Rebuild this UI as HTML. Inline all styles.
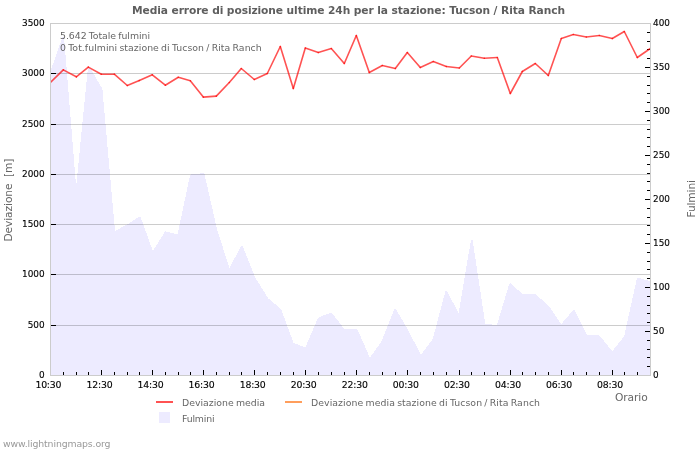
<!DOCTYPE html>
<html><head><meta charset="utf-8"><title>Media errore di posizione</title>
<style>
html,body{margin:0;padding:0;background:#fff;}
body{width:700px;height:450px;overflow:hidden;}
svg{display:block;}
text{font-family:"DejaVu Sans","Liberation Sans",sans-serif;}
</style></head><body>
<svg width="700" height="450" viewBox="0 0 700 450">
<rect x="0" y="0" width="700" height="450" fill="#ffffff"/>
<clipPath id="pc"><rect x="51" y="24" width="599" height="351"/></clipPath>
<g clip-path="url(#pc)" fill="#edebff" shape-rendering="crispEdges">
<path d="M50.5,375.5 L50.50,73.50 L63.27,37.00 L76.03,195.50 L88.80,67.20 L101.56,88.70 L114.33,232.20 L127.10,225.20 L139.86,217.20 L152.63,252.80 L165.39,232.20 L178.16,235.20 L190.93,174.80 L203.69,174.10 L216.46,230.20 L229.22,269.70 L241.99,246.20 L254.76,278.20 L267.52,298.50 L280.29,309.20 L293.05,343.70 L305.82,348.20 L318.59,318.20 L331.35,313.30 L344.12,329.70 L356.88,329.70 L369.65,359.20 L382.41,341.20 L395.18,309.20 L407.95,331.20 L420.71,356.20 L433.48,339.20 L446.24,291.20 L459.01,315.40 L471.78,239.90 L484.54,324.20 L497.31,326.20 L510.07,283.70 L522.84,295.20 L535.61,295.20 L548.37,306.20 L561.14,325.20 L573.90,310.20 L586.67,336.20 L599.44,336.20 L612.20,352.20 L624.97,336.20 L637.73,278.20 L650.50,282.20 L650.5,375.5Z"/>
<path d="M49.70,73.50 L51.30,73.50 L64.07,37.00 L62.47,37.00Z"/>
<path d="M62.47,37.00 L64.07,37.00 L76.83,195.50 L75.23,195.50Z"/>
<path d="M75.23,195.50 L76.83,195.50 L89.60,67.20 L88.00,67.20Z"/>
<path d="M88.00,67.20 L89.60,67.20 L102.36,88.70 L100.76,88.70Z"/>
<path d="M100.76,88.70 L102.36,88.70 L115.13,232.20 L113.53,232.20Z"/>
<path d="M114.33,231.40 L127.10,224.40 L127.10,226.00 L114.33,233.00Z"/>
<path d="M127.10,224.40 L139.86,216.40 L139.86,218.00 L127.10,226.00Z"/>
<path d="M139.06,217.20 L140.66,217.20 L153.43,252.80 L151.83,252.80Z"/>
<path d="M151.83,252.80 L153.43,252.80 L166.19,232.20 L164.59,232.20Z"/>
<path d="M165.39,231.40 L178.16,234.40 L178.16,236.00 L165.39,233.00Z"/>
<path d="M177.36,235.20 L178.96,235.20 L191.73,174.80 L190.13,174.80Z"/>
<path d="M190.93,174.00 L203.69,173.30 L203.69,174.90 L190.93,175.60Z"/>
<path d="M202.89,174.10 L204.49,174.10 L217.26,230.20 L215.66,230.20Z"/>
<path d="M215.66,230.20 L217.26,230.20 L230.02,269.70 L228.42,269.70Z"/>
<path d="M228.42,269.70 L230.02,269.70 L242.79,246.20 L241.19,246.20Z"/>
<path d="M241.19,246.20 L242.79,246.20 L255.56,278.20 L253.96,278.20Z"/>
<path d="M253.96,278.20 L255.56,278.20 L268.32,298.50 L266.72,298.50Z"/>
<path d="M267.52,297.70 L280.29,308.40 L280.29,310.00 L267.52,299.30Z"/>
<path d="M279.49,309.20 L281.09,309.20 L293.85,343.70 L292.25,343.70Z"/>
<path d="M293.05,342.90 L305.82,347.40 L305.82,349.00 L293.05,344.50Z"/>
<path d="M305.02,348.20 L306.62,348.20 L319.39,318.20 L317.79,318.20Z"/>
<path d="M318.59,317.40 L331.35,312.50 L331.35,314.10 L318.59,319.00Z"/>
<path d="M330.55,313.30 L332.15,313.30 L344.92,329.70 L343.32,329.70Z"/>
<path d="M344.12,328.90 L356.88,328.90 L356.88,330.50 L344.12,330.50Z"/>
<path d="M356.08,329.70 L357.68,329.70 L370.45,359.20 L368.85,359.20Z"/>
<path d="M368.85,359.20 L370.45,359.20 L383.21,341.20 L381.61,341.20Z"/>
<path d="M381.61,341.20 L383.21,341.20 L395.98,309.20 L394.38,309.20Z"/>
<path d="M394.38,309.20 L395.98,309.20 L408.75,331.20 L407.15,331.20Z"/>
<path d="M407.15,331.20 L408.75,331.20 L421.51,356.20 L419.91,356.20Z"/>
<path d="M419.91,356.20 L421.51,356.20 L434.28,339.20 L432.68,339.20Z"/>
<path d="M432.68,339.20 L434.28,339.20 L447.04,291.20 L445.44,291.20Z"/>
<path d="M445.44,291.20 L447.04,291.20 L459.81,315.40 L458.21,315.40Z"/>
<path d="M458.21,315.40 L459.81,315.40 L472.58,239.90 L470.98,239.90Z"/>
<path d="M470.98,239.90 L472.58,239.90 L485.34,324.20 L483.74,324.20Z"/>
<path d="M484.54,323.40 L497.31,325.40 L497.31,327.00 L484.54,325.00Z"/>
<path d="M496.51,326.20 L498.11,326.20 L510.87,283.70 L509.27,283.70Z"/>
<path d="M510.07,282.90 L522.84,294.40 L522.84,296.00 L510.07,284.50Z"/>
<path d="M522.84,294.40 L535.61,294.40 L535.61,296.00 L522.84,296.00Z"/>
<path d="M535.61,294.40 L548.37,305.40 L548.37,307.00 L535.61,296.00Z"/>
<path d="M547.57,306.20 L549.17,306.20 L561.94,325.20 L560.34,325.20Z"/>
<path d="M560.34,325.20 L561.94,325.20 L574.70,310.20 L573.10,310.20Z"/>
<path d="M573.10,310.20 L574.70,310.20 L587.47,336.20 L585.87,336.20Z"/>
<path d="M586.67,335.40 L599.44,335.40 L599.44,337.00 L586.67,337.00Z"/>
<path d="M598.64,336.20 L600.24,336.20 L613.00,352.20 L611.40,352.20Z"/>
<path d="M611.40,352.20 L613.00,352.20 L625.77,336.20 L624.17,336.20Z"/>
<path d="M624.17,336.20 L625.77,336.20 L638.53,278.20 L636.93,278.20Z"/>
<path d="M637.73,277.40 L650.50,281.40 L650.50,283.00 L637.73,279.00Z"/>
</g>
<line x1="51" y1="325.5" x2="650" y2="325.5" stroke="#000" stroke-opacity="0.2"/>
<line x1="51" y1="274.5" x2="650" y2="274.5" stroke="#000" stroke-opacity="0.2"/>
<line x1="51" y1="224.5" x2="650" y2="224.5" stroke="#000" stroke-opacity="0.2"/>
<line x1="51" y1="174.5" x2="650" y2="174.5" stroke="#000" stroke-opacity="0.2"/>
<line x1="51" y1="124.5" x2="650" y2="124.5" stroke="#000" stroke-opacity="0.2"/>
<line x1="51" y1="73.5" x2="650" y2="73.5" stroke="#000" stroke-opacity="0.2"/>
<rect x="50.5" y="23.5" width="600" height="352" fill="none" stroke="#cccccc"/>
<line x1="63.5" y1="372" x2="63.5" y2="375" stroke="#000"/>
<line x1="76.5" y1="372" x2="76.5" y2="375" stroke="#000"/>
<line x1="88.5" y1="372" x2="88.5" y2="375" stroke="#000"/>
<line x1="101.5" y1="370" x2="101.5" y2="375" stroke="#000"/>
<line x1="114.5" y1="372" x2="114.5" y2="375" stroke="#000"/>
<line x1="127.5" y1="372" x2="127.5" y2="375" stroke="#000"/>
<line x1="139.5" y1="372" x2="139.5" y2="375" stroke="#000"/>
<line x1="152.5" y1="370" x2="152.5" y2="375" stroke="#000"/>
<line x1="165.5" y1="372" x2="165.5" y2="375" stroke="#000"/>
<line x1="178.5" y1="372" x2="178.5" y2="375" stroke="#000"/>
<line x1="190.5" y1="372" x2="190.5" y2="375" stroke="#000"/>
<line x1="203.5" y1="370" x2="203.5" y2="375" stroke="#000"/>
<line x1="216.5" y1="372" x2="216.5" y2="375" stroke="#000"/>
<line x1="229.5" y1="372" x2="229.5" y2="375" stroke="#000"/>
<line x1="241.5" y1="372" x2="241.5" y2="375" stroke="#000"/>
<line x1="254.5" y1="370" x2="254.5" y2="375" stroke="#000"/>
<line x1="267.5" y1="372" x2="267.5" y2="375" stroke="#000"/>
<line x1="280.5" y1="372" x2="280.5" y2="375" stroke="#000"/>
<line x1="293.5" y1="372" x2="293.5" y2="375" stroke="#000"/>
<line x1="305.5" y1="370" x2="305.5" y2="375" stroke="#000"/>
<line x1="318.5" y1="372" x2="318.5" y2="375" stroke="#000"/>
<line x1="331.5" y1="372" x2="331.5" y2="375" stroke="#000"/>
<line x1="344.5" y1="372" x2="344.5" y2="375" stroke="#000"/>
<line x1="356.5" y1="370" x2="356.5" y2="375" stroke="#000"/>
<line x1="369.5" y1="372" x2="369.5" y2="375" stroke="#000"/>
<line x1="382.5" y1="372" x2="382.5" y2="375" stroke="#000"/>
<line x1="395.5" y1="372" x2="395.5" y2="375" stroke="#000"/>
<line x1="407.5" y1="370" x2="407.5" y2="375" stroke="#000"/>
<line x1="420.5" y1="372" x2="420.5" y2="375" stroke="#000"/>
<line x1="433.5" y1="372" x2="433.5" y2="375" stroke="#000"/>
<line x1="446.5" y1="372" x2="446.5" y2="375" stroke="#000"/>
<line x1="459.5" y1="370" x2="459.5" y2="375" stroke="#000"/>
<line x1="471.5" y1="372" x2="471.5" y2="375" stroke="#000"/>
<line x1="484.5" y1="372" x2="484.5" y2="375" stroke="#000"/>
<line x1="497.5" y1="372" x2="497.5" y2="375" stroke="#000"/>
<line x1="510.5" y1="370" x2="510.5" y2="375" stroke="#000"/>
<line x1="522.5" y1="372" x2="522.5" y2="375" stroke="#000"/>
<line x1="535.5" y1="372" x2="535.5" y2="375" stroke="#000"/>
<line x1="548.5" y1="372" x2="548.5" y2="375" stroke="#000"/>
<line x1="561.5" y1="370" x2="561.5" y2="375" stroke="#000"/>
<line x1="573.5" y1="372" x2="573.5" y2="375" stroke="#000"/>
<line x1="586.5" y1="372" x2="586.5" y2="375" stroke="#000"/>
<line x1="599.5" y1="372" x2="599.5" y2="375" stroke="#000"/>
<line x1="612.5" y1="370" x2="612.5" y2="375" stroke="#000"/>
<line x1="624.5" y1="372" x2="624.5" y2="375" stroke="#000"/>
<line x1="637.5" y1="372" x2="637.5" y2="375" stroke="#000"/>
<line x1="51" y1="325.5" x2="56" y2="325.5" stroke="#000"/>
<line x1="51" y1="274.5" x2="56" y2="274.5" stroke="#000"/>
<line x1="51" y1="224.5" x2="56" y2="224.5" stroke="#000"/>
<line x1="51" y1="174.5" x2="56" y2="174.5" stroke="#000"/>
<line x1="51" y1="124.5" x2="56" y2="124.5" stroke="#000"/>
<line x1="51" y1="73.5" x2="56" y2="73.5" stroke="#000"/>
<line x1="647" y1="366.5" x2="650" y2="366.5" stroke="#000"/>
<line x1="647" y1="357.5" x2="650" y2="357.5" stroke="#000"/>
<line x1="647" y1="349.5" x2="650" y2="349.5" stroke="#000"/>
<line x1="647" y1="340.5" x2="650" y2="340.5" stroke="#000"/>
<line x1="645" y1="331.5" x2="650" y2="331.5" stroke="#000"/>
<line x1="647" y1="322.5" x2="650" y2="322.5" stroke="#000"/>
<line x1="647" y1="313.5" x2="650" y2="313.5" stroke="#000"/>
<line x1="647" y1="305.5" x2="650" y2="305.5" stroke="#000"/>
<line x1="647" y1="296.5" x2="650" y2="296.5" stroke="#000"/>
<line x1="645" y1="287.5" x2="650" y2="287.5" stroke="#000"/>
<line x1="647" y1="278.5" x2="650" y2="278.5" stroke="#000"/>
<line x1="647" y1="269.5" x2="650" y2="269.5" stroke="#000"/>
<line x1="647" y1="261.5" x2="650" y2="261.5" stroke="#000"/>
<line x1="647" y1="252.5" x2="650" y2="252.5" stroke="#000"/>
<line x1="645" y1="243.5" x2="650" y2="243.5" stroke="#000"/>
<line x1="647" y1="234.5" x2="650" y2="234.5" stroke="#000"/>
<line x1="647" y1="225.5" x2="650" y2="225.5" stroke="#000"/>
<line x1="647" y1="217.5" x2="650" y2="217.5" stroke="#000"/>
<line x1="647" y1="208.5" x2="650" y2="208.5" stroke="#000"/>
<line x1="645" y1="199.5" x2="650" y2="199.5" stroke="#000"/>
<line x1="647" y1="190.5" x2="650" y2="190.5" stroke="#000"/>
<line x1="647" y1="181.5" x2="650" y2="181.5" stroke="#000"/>
<line x1="647" y1="173.5" x2="650" y2="173.5" stroke="#000"/>
<line x1="647" y1="164.5" x2="650" y2="164.5" stroke="#000"/>
<line x1="645" y1="155.5" x2="650" y2="155.5" stroke="#000"/>
<line x1="647" y1="146.5" x2="650" y2="146.5" stroke="#000"/>
<line x1="647" y1="137.5" x2="650" y2="137.5" stroke="#000"/>
<line x1="647" y1="129.5" x2="650" y2="129.5" stroke="#000"/>
<line x1="647" y1="120.5" x2="650" y2="120.5" stroke="#000"/>
<line x1="645" y1="111.5" x2="650" y2="111.5" stroke="#000"/>
<line x1="647" y1="102.5" x2="650" y2="102.5" stroke="#000"/>
<line x1="647" y1="93.5" x2="650" y2="93.5" stroke="#000"/>
<line x1="647" y1="85.5" x2="650" y2="85.5" stroke="#000"/>
<line x1="647" y1="76.5" x2="650" y2="76.5" stroke="#000"/>
<line x1="645" y1="67.5" x2="650" y2="67.5" stroke="#000"/>
<line x1="647" y1="58.5" x2="650" y2="58.5" stroke="#000"/>
<line x1="647" y1="49.5" x2="650" y2="49.5" stroke="#000"/>
<line x1="647" y1="41.5" x2="650" y2="41.5" stroke="#000"/>
<line x1="647" y1="32.5" x2="650" y2="32.5" stroke="#000"/>
<clipPath id="lc"><rect x="51" y="23" width="599" height="352"/></clipPath>
<g clip-path="url(#lc)" fill="none" stroke="#ff0000" stroke-opacity="0.68" stroke-width="1.6" stroke-linecap="round">
<line x1="50.3" y1="82.50" x2="63.3" y2="69.90"/>
<line x1="63.3" y1="69.90" x2="76.3" y2="76.80"/>
<line x1="76.3" y1="76.80" x2="88.3" y2="67.10"/>
<line x1="88.3" y1="67.10" x2="101.3" y2="74.20"/>
<line x1="101.3" y1="74.20" x2="114.3" y2="74.20"/>
<line x1="114.3" y1="74.20" x2="127.3" y2="85.50"/>
<line x1="127.3" y1="85.50" x2="139.3" y2="80.50"/>
<line x1="139.3" y1="80.50" x2="152.3" y2="74.80"/>
<line x1="152.3" y1="74.80" x2="165.3" y2="85.20"/>
<line x1="165.3" y1="85.20" x2="178.3" y2="77.30"/>
<line x1="178.3" y1="77.30" x2="190.3" y2="80.80"/>
<line x1="190.3" y1="80.80" x2="203.3" y2="97.10"/>
<line x1="203.3" y1="97.10" x2="216.3" y2="96.10"/>
<line x1="216.3" y1="96.10" x2="229.3" y2="82.50"/>
<line x1="229.3" y1="82.50" x2="241.3" y2="68.50"/>
<line x1="241.3" y1="68.50" x2="254.3" y2="79.50"/>
<line x1="254.3" y1="79.50" x2="267.3" y2="73.50"/>
<line x1="267.3" y1="73.50" x2="280.3" y2="46.50"/>
<line x1="280.3" y1="46.50" x2="293.3" y2="88.50"/>
<line x1="293.3" y1="88.50" x2="305.3" y2="48.00"/>
<line x1="305.3" y1="48.00" x2="318.3" y2="52.50"/>
<line x1="318.3" y1="52.50" x2="331.3" y2="48.50"/>
<line x1="331.3" y1="48.50" x2="344.3" y2="63.50"/>
<line x1="344.3" y1="63.50" x2="356.3" y2="35.50"/>
<line x1="356.3" y1="35.50" x2="369.3" y2="72.50"/>
<line x1="369.3" y1="72.50" x2="382.3" y2="65.50"/>
<line x1="382.3" y1="65.50" x2="395.3" y2="68.50"/>
<line x1="395.3" y1="68.50" x2="407.3" y2="52.50"/>
<line x1="407.3" y1="52.50" x2="420.3" y2="67.50"/>
<line x1="420.3" y1="67.50" x2="433.3" y2="61.50"/>
<line x1="433.3" y1="61.50" x2="446.3" y2="66.50"/>
<line x1="446.3" y1="66.50" x2="459.3" y2="68.00"/>
<line x1="459.3" y1="68.00" x2="471.3" y2="56.00"/>
<line x1="471.3" y1="56.00" x2="484.3" y2="58.30"/>
<line x1="484.3" y1="58.30" x2="497.3" y2="57.50"/>
<line x1="497.3" y1="57.50" x2="510.3" y2="93.50"/>
<line x1="510.3" y1="93.50" x2="522.3" y2="71.50"/>
<line x1="522.3" y1="71.50" x2="535.3" y2="63.50"/>
<line x1="535.3" y1="63.50" x2="548.3" y2="75.50"/>
<line x1="548.3" y1="75.50" x2="561.3" y2="38.50"/>
<line x1="561.3" y1="38.50" x2="573.3" y2="34.50"/>
<line x1="573.3" y1="34.50" x2="586.3" y2="37.00"/>
<line x1="586.3" y1="37.00" x2="599.3" y2="35.50"/>
<line x1="599.3" y1="35.50" x2="612.3" y2="38.50"/>
<line x1="612.3" y1="38.50" x2="624.3" y2="31.50"/>
<line x1="624.3" y1="31.50" x2="637.3" y2="57.50"/>
<line x1="637.3" y1="57.50" x2="650.3" y2="48.50"/>
</g><g font-size="9.33" fill="#000" stroke="#000" stroke-width="0.12">
<text x="39.03" y="378" textLength="5.67" lengthAdjust="spacingAndGlyphs">0</text>
<text x="27.69" y="328" textLength="17.01" lengthAdjust="spacingAndGlyphs">500</text>
<text x="22.02" y="277" textLength="22.68" lengthAdjust="spacingAndGlyphs">1000</text>
<text x="22.02" y="227" textLength="22.68" lengthAdjust="spacingAndGlyphs">1500</text>
<text x="22.02" y="177" textLength="22.68" lengthAdjust="spacingAndGlyphs">2000</text>
<text x="22.02" y="127" textLength="22.68" lengthAdjust="spacingAndGlyphs">2500</text>
<text x="22.02" y="76" textLength="22.68" lengthAdjust="spacingAndGlyphs">3000</text>
<text x="22.02" y="26" textLength="22.68" lengthAdjust="spacingAndGlyphs">3500</text>
<text x="653.1" y="378" textLength="5.64" lengthAdjust="spacingAndGlyphs">0</text>
<text x="653.1" y="334" textLength="11.28" lengthAdjust="spacingAndGlyphs">50</text>
<text x="653.1" y="290" textLength="16.92" lengthAdjust="spacingAndGlyphs">100</text>
<text x="653.1" y="246" textLength="16.92" lengthAdjust="spacingAndGlyphs">150</text>
<text x="653.1" y="202" textLength="16.92" lengthAdjust="spacingAndGlyphs">200</text>
<text x="653.1" y="158" textLength="16.92" lengthAdjust="spacingAndGlyphs">250</text>
<text x="653.1" y="114" textLength="16.92" lengthAdjust="spacingAndGlyphs">300</text>
<text x="653.1" y="70" textLength="16.92" lengthAdjust="spacingAndGlyphs">350</text>
<text x="653.1" y="26" textLength="16.92" lengthAdjust="spacingAndGlyphs">400</text>
<text x="35.4" y="388" letter-spacing="-0.2">10:30</text>
<text x="86.5" y="388" letter-spacing="-0.2">12:30</text>
<text x="137.5" y="388" letter-spacing="-0.2">14:30</text>
<text x="188.6" y="388" letter-spacing="-0.2">16:30</text>
<text x="239.7" y="388" letter-spacing="-0.2">18:30</text>
<text x="290.7" y="388" letter-spacing="-0.2">20:30</text>
<text x="341.8" y="388" letter-spacing="-0.2">22:30</text>
<text x="392.8" y="388" letter-spacing="-0.2">00:30</text>
<text x="443.9" y="388" letter-spacing="-0.2">02:30</text>
<text x="495.0" y="388" letter-spacing="-0.2">04:30</text>
<text x="546.0" y="388" letter-spacing="-0.2">06:30</text>
<text x="597.1" y="388" letter-spacing="-0.2">08:30</text>
</g>
<text x="132" y="14" textLength="433" lengthAdjust="spacing" font-size="10.67" font-weight="bold" fill="#5e5e5e">Media errore di posizione ultime 24h per la stazione: Tucson / Rita Ranch</text>
<g font-size="9.33" fill="#666" word-spacing="-0.8">
<text x="60" y="39" textLength="90">5.642 Totale fulmini</text>
<text x="60" y="51" textLength="201.7">0 Tot.fulmini stazione di Tucson / Rita Ranch</text>
</g>
<text transform="translate(11.9,241.5) rotate(-90)" textLength="83" font-size="10.67" fill="#666" xml:space="preserve">Deviazione  [m]</text>
<text transform="translate(694.7,217.5) rotate(-90)" textLength="37.5" font-size="10.67" fill="#666">Fulmini</text>
<text x="615" y="401" textLength="32.7" font-size="10.67" fill="#666">Orario</text>
<line x1="156" y1="402" x2="173" y2="402" stroke="#ff5252" stroke-width="2"/>
<line x1="285" y1="402" x2="302" y2="402" stroke="#ff9e5c" stroke-width="2"/>
<rect x="159" y="412" width="11" height="11" fill="#edebff"/>
<g font-size="9.33" fill="#666" word-spacing="-0.8">
<text x="182" y="406" textLength="83">Deviazione media</text>
<text x="311" y="406" textLength="229">Deviazione media stazione di Tucson / Rita Ranch</text>
<text x="182" y="422" textLength="32.5">Fulmini</text>
</g>
<text x="3" y="447" textLength="107.5" font-size="9.33" fill="#999">www.lightningmaps.org</text>
</svg>
</body></html>
